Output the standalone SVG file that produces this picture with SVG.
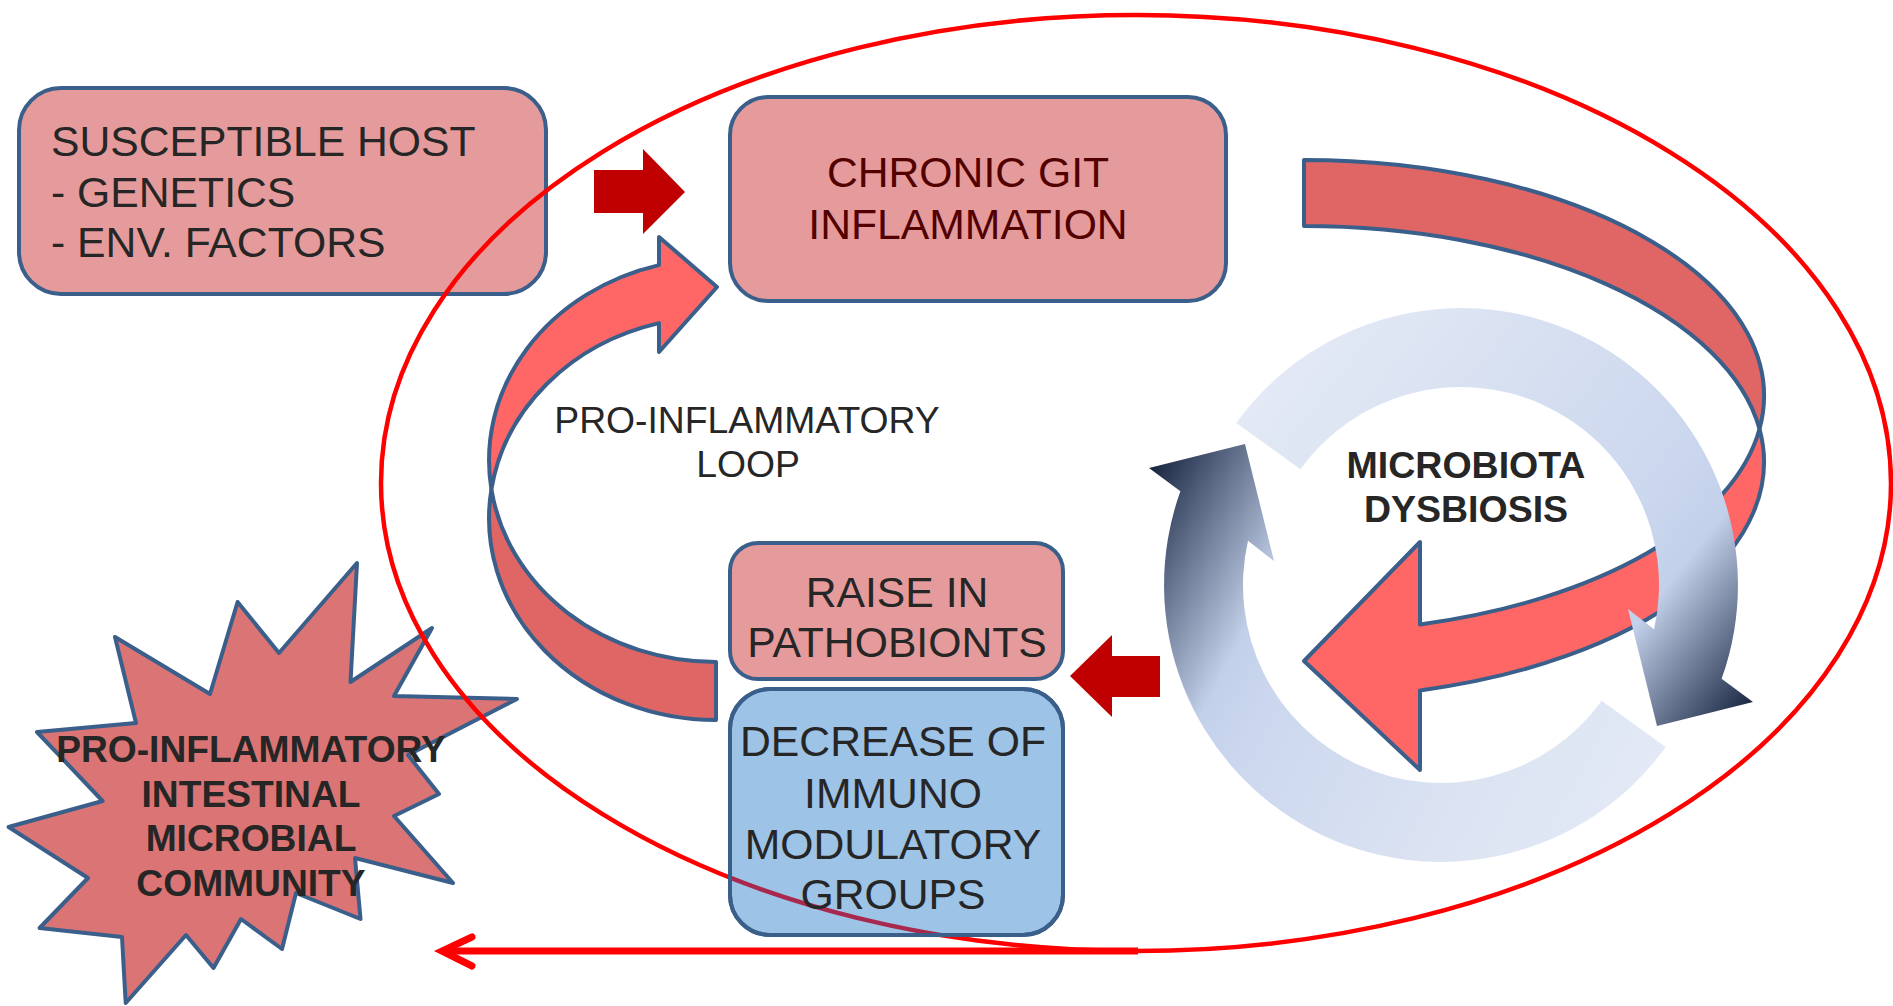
<svg xmlns="http://www.w3.org/2000/svg" width="1893" height="1006" viewBox="0 0 1893 1006">
<defs>
<style>
text{font-family:"Liberation Sans",Arial,sans-serif;fill:#262626}
.box{fill:#E59B9B;stroke:#3B5F8B;stroke-width:4}
.blue{fill:#9DC3E6;stroke:#3B5F8B;stroke-width:4}
.t42{font-size:42.7px}
.t36{font-size:37.3px}
.b36{font-size:37.2px;font-weight:bold}
.mid{text-anchor:middle}
.block{fill:#C00000}
.front{fill:#FF6666;stroke:#3B5F8B;stroke-width:4;stroke-linejoin:round}
.back{fill:#E06666;stroke:#3B5F8B;stroke-width:4;stroke-linejoin:round}
</style>
<linearGradient id="ringGrad1" gradientUnits="userSpaceOnUse" x1="-218.9" y1="-174.6" x2="239.2" y2="190.9">
<stop offset="0" stop-color="#E3E9F5"/>
<stop offset="0.225" stop-color="#DBE3F2"/>
<stop offset="0.638" stop-color="#CBD7EE"/>
<stop offset="0.754" stop-color="#C2D0EA"/>
<stop offset="1" stop-color="#15233F"/>
</linearGradient>
<linearGradient id="ringGrad2" gradientUnits="userSpaceOnUse" x1="-247.8" y1="-130.5" x2="277.9" y2="146.3">
<stop offset="0" stop-color="#E3E9F5"/>
<stop offset="0.286" stop-color="#DBE3F2"/>
<stop offset="0.64" stop-color="#CBD7EE"/>
<stop offset="0.727" stop-color="#C2D0EA"/>
<stop offset="1" stop-color="#15233F"/>
</linearGradient>
<clipPath id="decClip"><rect x="730" y="689" width="333" height="246" rx="40"/></clipPath>
<path id="cycArc" d="M -224.7,-162 A 277 277 0 0 1 260.6,93.8 L 292,117 L 196,141 L 167,24 L 193,44.2 A 198 198 0 0 0 -160.6,-115.8 Z"/>
</defs>
<rect width="1893" height="1006" fill="#FFFFFF"/>

<g id="susceptible-host">
<rect class="box" x="19" y="88" width="527" height="206" rx="42"/>
<text class="t42" x="51" y="156">SUSCEPTIBLE HOST</text>
<text class="t42" x="51" y="207">- GENETICS</text>
<text class="t42" x="51" y="257">- ENV. FACTORS</text>
</g>

<g id="pro-inflammatory-community">
<polygon points="357,563 350.5,682 432,628 394,696 517,699 408,755 439,794 394,816 453,883 355,858 360.5,919 296,893 282,949 241,919 213.5,968 186,935 125.7,1003 122,937 39.6,928 88,878 8.6,827 102.6,801 37,732 136,723 115,637 210,694 237.6,602 279,653" fill="#DB7474" stroke="#3B5F8B" stroke-width="4" stroke-linejoin="round"/>
<text class="b36 mid" x="251" y="762">PRO-INFLAMMATORY</text>
<text class="b36 mid" x="251" y="807">INTESTINAL</text>
<text class="b36 mid" x="251" y="851">MICROBIAL</text>
<text class="b36 mid" x="251" y="896">COMMUNITY</text>
</g>

<g id="boundary">
<ellipse cx="1136" cy="483" rx="755" ry="468" fill="none" stroke="#FF0000" stroke-width="4.5"/>
</g>

<g id="chronic-git-inflammation">
<rect class="box" x="730" y="97" width="496" height="204" rx="38"/>
<text class="t42 mid" x="968" y="187" style="fill:#520000">CHRONIC GIT</text>
<text class="t42 mid" x="968" y="239" style="fill:#520000">INFLAMMATION</text>
</g>

<g id="raise-in-pathobionts">
<rect class="box" x="730" y="543" width="333" height="136" rx="28"/>
<text class="t42 mid" x="897" y="607">RAISE IN</text>
<text class="t42 mid" x="897" y="657">PATHOBIONTS</text>
</g>

<g id="decrease-immunomodulatory">
<rect class="blue" x="730" y="689" width="333" height="246" rx="40"/>
<ellipse cx="1136" cy="483" rx="755" ry="468" fill="none" stroke="#A8284E" stroke-width="4.5" clip-path="url(#decClip)"/>
<rect x="730" y="689" width="333" height="246" rx="40" fill="none" stroke="#3B5F8B" stroke-width="4"/>
<text class="t42 mid" x="893" y="756">DECREASE OF</text>
<text class="t42 mid" x="893" y="808">IMMUNO</text>
<text class="t42 mid" x="893" y="859">MODULATORY</text>
<text class="t42 mid" x="893" y="909">GROUPS</text>
</g>

<g id="connectors">
<path class="block" d="M594,170 L643,170 L643,149 L685,192 L643,234 L643,213 L594,213 Z"/>
<path class="block" d="M1070,676 L1112,635 L1112,656 L1160,656 L1160,697 L1112,697 L1112,717 Z"/>
<path class="back" d="M491.4,489.3 A227 201.7 0 0 0 716,720 L716,662 A227 201.7 0 0 1 491.4,489.3 Z"/>
<path class="front" d="M491.4,489.3 A227 201.7 0 0 1 659,265.1 L659,237 L717,287 L659,352 L659,323.1 A227 201.7 0 0 0 491.4,489.3 Z"/>
<path class="back" d="M1304,160 A460 236 0 0 1 1759.5,429 A460 236 0 0 0 1304,226 Z"/>
<path class="front" d="M1759.5,429 A460 236 0 0 1 1420,690.4 L1420,770 L1304,661 L1420,542 L1420,624.4 A460 236 0 0 0 1759.5,429 Z"/>
<line x1="1138" y1="951" x2="446" y2="951" stroke="#FF0000" stroke-width="7"/>
<path d="M472,937 L442,951 L472,966" fill="none" stroke="#FF0000" stroke-width="7" stroke-linecap="round" stroke-linejoin="miter"/>
</g>

<g id="microbiota-dysbiosis">
<use href="#cycArc" fill="url(#ringGrad1)" transform="translate(1461,585)"/>
<use href="#cycArc" fill="url(#ringGrad2)" transform="translate(1441,585) rotate(180)"/>
<text class="mid" x="1466" y="478" style="font-size:37.5px;font-weight:bold">MICROBIOTA</text>
<text class="mid" x="1466" y="522" style="font-size:37.5px;font-weight:bold">DYSBIOSIS</text>
</g>

<g id="loop-label">
<text class="t36 mid" x="747" y="433">PRO-INFLAMMATORY</text>
<text class="t36 mid" x="748" y="477">LOOP</text>
</g>
</svg>
